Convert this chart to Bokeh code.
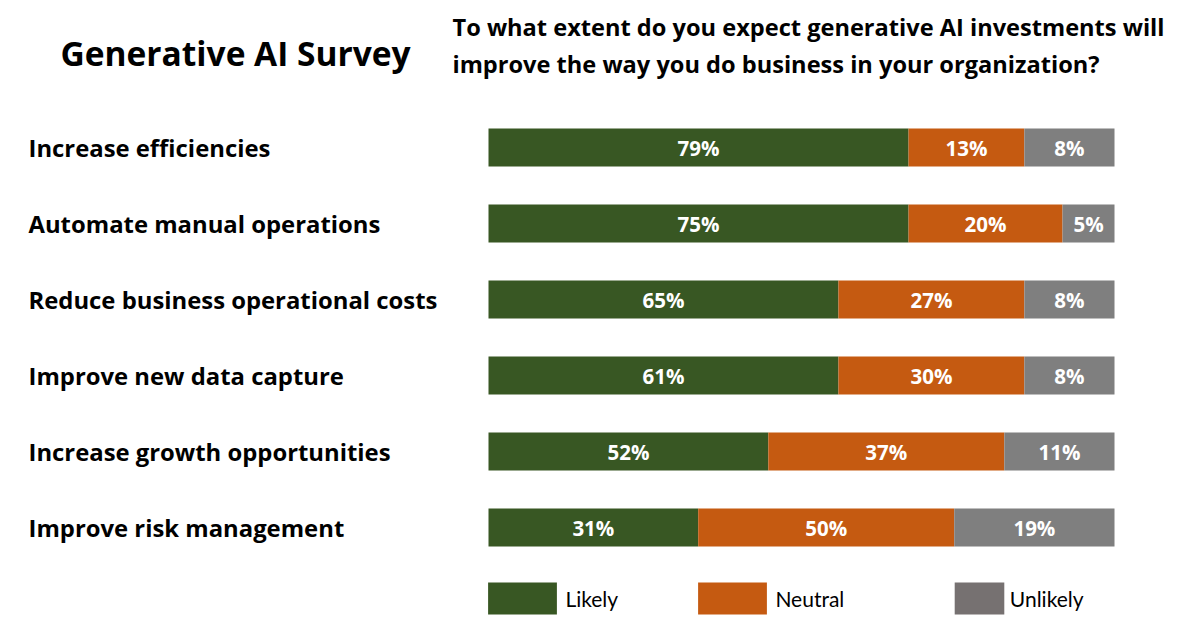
from bokeh.plotting import figure
from bokeh.models import Range1d, Legend, LegendItem, Label, ColumnDataSource
from bokeh.core.properties import value
from bokeh.embed import file_html
from bokeh.resources import INLINE

# ---------------- data ----------------
categories = [
    "Increase efficiencies",
    "Automate manual operations",
    "Reduce business operational costs",
    "Improve new data capture",
    "Increase growth opportunities",
    "Improve risk management",
]
likely = [79, 75, 65, 61, 52, 31]
neutral = [13, 20, 27, 30, 37, 50]
unlikely = [8, 5, 8, 8, 11, 19]

# segment lengths as drawn in the reference (share of the full bar, %)
likely_drawn = [67.1, 67.1, 55.9, 55.9, 44.7, 33.5]
neutral_drawn = [18.5, 24.6, 29.7, 29.7, 37.7, 40.9]
unlikely_drawn = [14.4, 8.3, 14.4, 14.4, 17.6, 25.6]

series_names = ["Likely", "Neutral", "Unlikely"]
colors = ["#385723", "#C55A11", "#7F7F7F"]
legend_grey = "#767171"

title_text = "Generative AI Survey"
subtitle_lines = [
    "To what extent do you expect generative AI investments will",
    "improve the way you do business in your organization?",
]

# ---------------- layout ----------------
W, H = 1170, 618
BAR_X0 = 488          # canvas px where bars start
PX_PER_UNIT = 6.26    # px per % of bar
ROW0 = 147            # canvas px of first row centre
ROW_STEP = 76

x_start = -BAR_X0 / PX_PER_UNIT
x_end = (W - BAR_X0) / PX_PER_UNIT
y_bottom = (H - ROW0) / ROW_STEP
y_top = -ROW0 / ROW_STEP

p = figure(width=W, height=H, output_backend="svg", toolbar_location=None,
           x_range=Range1d(x_start, x_end), y_range=Range1d(y_bottom, y_top),
           x_axis_location=None, y_axis_location=None, min_border=0,
           outline_line_color=None, background_fill_color="white",
           border_fill_color="white")
p.xgrid.visible = False
p.ygrid.visible = False

rows = list(range(len(categories)))
l_left = [0] * len(rows)
l_right = list(likely_drawn)
n_left = l_right
n_right = [a + b for a, b in zip(l_right, neutral_drawn)]
u_left = n_right
u_right = [a + b for a, b in zip(n_right, unlikely_drawn)]

src = ColumnDataSource(dict(
    y=rows, cat=categories,
    l_left=l_left, l_right=l_right, n_left=n_left, n_right=n_right,
    u_left=u_left, u_right=u_right,
    l_mid=[(a + b) / 2 for a, b in zip(l_left, l_right)],
    n_mid=[(a + b) / 2 for a, b in zip(n_left, n_right)],
    u_mid=[(a + b) / 2 for a, b in zip(u_left, u_right)],
    l_lab=[f"{v}%" for v in likely],
    n_lab=[f"{v}%" for v in neutral],
    u_lab=[f"{v}%" for v in unlikely],
))

r_l = p.hbar(y="y", left="l_left", right="l_right", height=0.5, source=src,
             fill_color=colors[0], line_color=None)
r_n = p.hbar(y="y", left="n_left", right="n_right", height=0.5, source=src,
             fill_color=colors[1], line_color=None)
r_u = p.hbar(y="y", left="u_left", right="u_right", height=0.5, source=src,
             fill_color=colors[2], line_color=None)

BOLD_FONT = "Open Sans"
for xcol, tcol in [("l_mid", "l_lab"), ("n_mid", "n_lab"), ("u_mid", "u_lab")]:
    p.text(x=xcol, y="y", text=tcol, source=src, text_align="center",
           text_baseline="middle", text_color="white", text_font=value(BOLD_FONT),
           text_font_style="bold", text_font_size="20.5px")

# category labels
label_x = (28 - BAR_X0) / PX_PER_UNIT
p.text(x=label_x, y="y", text="cat", source=src, text_align="left",
       text_baseline="middle", text_color="black", text_font=value(BOLD_FONT),
       text_font_style="bold", text_font_size="23.85px")

# titles
p.add_layout(Label(x=60, y=H - 52, x_units="screen", y_units="screen",
                   text=title_text, text_font=BOLD_FONT, text_font_style="bold",
                   text_font_size="33.5px", text_color="black",
                   text_baseline="middle"))
for i, line in enumerate(subtitle_lines):
    p.add_layout(Label(x=452, y=H - 26 - 37 * i, x_units="screen", y_units="screen",
                       text=line, text_font=BOLD_FONT, text_font_style="bold",
                       text_font_size="23.6px", text_color="black",
                       text_baseline="middle"))

# legend (bokeh insets area glyphs by 10% of the glyph box)
r_legend_grey = p.hbar(y=[1000], left=[0], right=[1], height=0.5,
                       fill_color=legend_grey, line_color=None)
legend_specs = [
    (series_names[0], r_l, 488, 86),
    (series_names[1], r_n, 698, 86),
    (series_names[2], r_legend_grey, 954, 62),
]
GH = 40
for name, rend, px, gw_box in legend_specs:
    inset = 0.1 * gw_box
    lg = Legend(items=[LegendItem(label=name, renderers=[rend])],
                location=(px - inset, 0.0),
                orientation="horizontal", glyph_width=gw_box,
                glyph_height=GH, padding=0, margin=0,
                label_standoff=0, border_line_color=None,
                background_fill_alpha=0, label_text_font="Lato",
                label_text_font_size="21px", label_text_color="black",
                label_text_baseline="middle", label_height=20)
    p.add_layout(lg, "center")

open("out.html", "w").write(file_html(p, INLINE))
